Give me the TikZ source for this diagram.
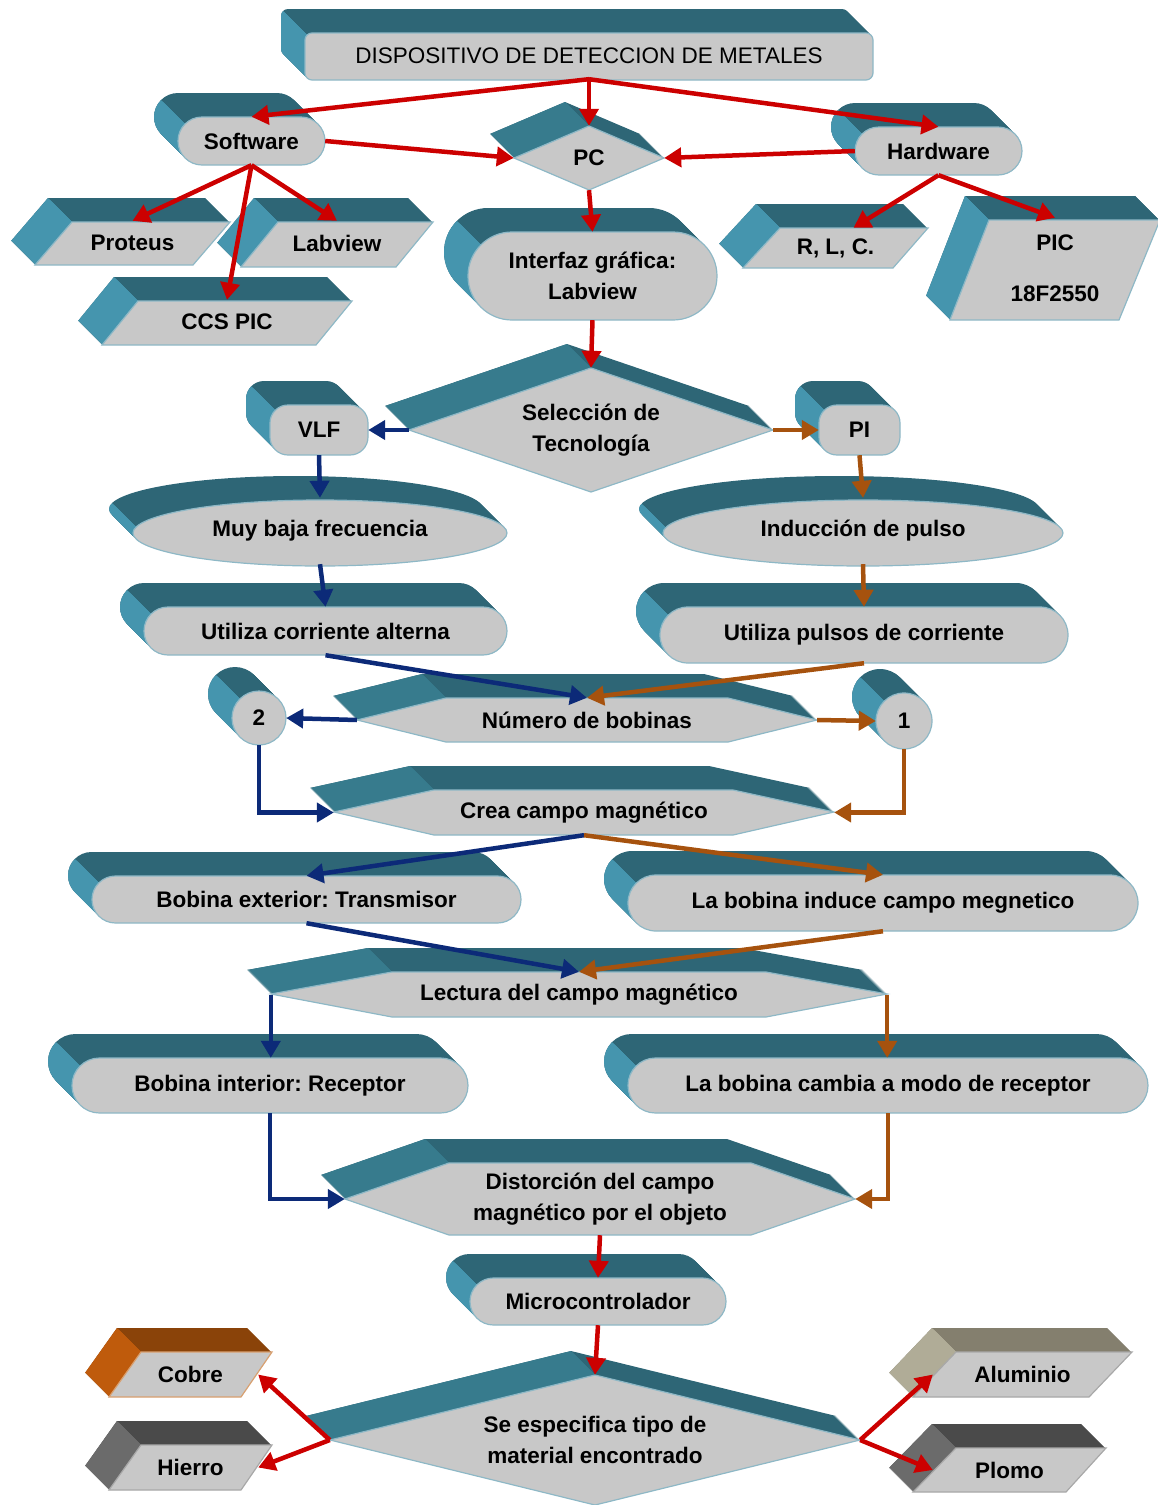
\documentclass[tikz,border=0pt]{standalone}
\usepackage{fontspec}
\setmainfont{Liberation Sans}
\frenchspacing
\usetikzlibrary{arrows.meta}
\pgfdeclarelayer{solidlayer}
\pgfdeclarelayer{nodelayer}
\pgfdeclarelayer{edgelayer}
\pgfsetlayers{solidlayer,nodelayer,edgelayer,main}
\definecolor{facegray}{HTML}{C8C8C8}
\definecolor{tealtop}{HTML}{2E6676}
\definecolor{tealside}{HTML}{4595AE}
\definecolor{tealedge}{HTML}{8EB8C6}
\definecolor{flattop}{HTML}{2E6676}
\definecolor{flatside}{HTML}{377B8D}
\definecolor{flatedge}{HTML}{8EB8C6}
\definecolor{coppertop}{HTML}{8A4309}
\definecolor{copperside}{HTML}{BF5B0C}
\definecolor{copperedge}{HTML}{D8A070}
\definecolor{irontop}{HTML}{4A4A4A}
\definecolor{ironside}{HTML}{6B6B6B}
\definecolor{ironedge}{HTML}{A8A8A8}
\definecolor{alutop}{HTML}{847F6E}
\definecolor{aluside}{HTML}{B0AC97}
\definecolor{aluedge}{HTML}{A8A8A8}
\definecolor{arrowred}{HTML}{CC0000}
\definecolor{arrownavy}{HTML}{0C2A78}
\definecolor{arrowbrown}{HTML}{A6520E}
\tikzstyle{frontface}=[fill=facegray, line width=1.2pt]
\tikzstyle{blocktext}=[inner sep=0pt, align=center]
\tikzstyle{rededge}=[draw=arrowred, line width=4.5pt, -{Triangle[length=17pt,width=19pt]}]
\tikzstyle{navyedge}=[draw=arrownavy, line width=4.5pt, -{Triangle[length=17pt,width=19pt]}]
\tikzstyle{brownedge}=[draw=arrowbrown, line width=4.5pt, -{Triangle[length=17pt,width=19pt]}]
\newcommand{\prism}[3][teal]{%
  \colorlet{topcol}{#1top}%
  \colorlet{sidecol}{#1side}%
  \foreach \k in {1,...,24} {\fill [topcol, shift={(-\k,-\k)}] #3;}
  \begin{scope}
    \clip (#2) ++(-1000,-1000) -- ++(2000,2000) -- ++(-2000,0) -- cycle;
    \foreach \k in {1,...,24} {\fill [sidecol, shift={(-\k,-\k)}] #3;}
  \end{scope}
  \path [style=frontface, draw=#1edge] #3;%
}
\begin{document}
\begin{tikzpicture}[x=1pt, y=-1pt, font=\fontsize{22.5}{30.5}\selectfont\bfseries]
	\useasboundingbox (0,0) rectangle (1158,1505);
	\begin{pgfonlayer}{solidlayer}
		\prism{312,40}{[rounded corners=7pt] (305,33) rectangle (873,80)}
		\prism{202,141}{[rounded corners=24pt] (178,117) rectangle (325,165)}
		\prism[flat]{589,126}{(514,158) -- (589,126) -- (664,158) -- (589,190) -- cycle}
		\prism{879,151}{[rounded corners=24pt] (855,127) rectangle (1022,175)}
		\prism{72,222}{(72,222) -- (230,222) -- (193,265) -- (35,265) -- cycle}
		\prism{278,222}{(278,222) -- (433,222) -- (396,267) -- (241,267) -- cycle}
		\prism{138,301}{(138,301) -- (352,301) -- (316,345) -- (102,345) -- cycle}
		\prism{512,276}{[rounded corners=44pt] (468,232) rectangle (717,320)}
		\prism{780,228}{(780,228) -- (928,228) -- (893,268) -- (743,268) -- cycle}
		\prism{989,220}{(989,220) -- (1160,220) -- (1119,320) -- (950,320) -- cycle}
		\prism[flat]{591,368}{(409,430) -- (591,368) -- (773,430) -- (591,492) -- cycle}
		\prism{288,423}{[rounded corners=18pt] (270,405) rectangle (368,455)}
		\prism{837,423}{[rounded corners=18pt] (819,405) rectangle (900,455)}
		\prism{136,527}{(320,533) ellipse [x radius=187, y radius=33]}
		\prism{666,528}{(863,533) ellipse [x radius=200, y radius=33]}
		\prism{168,631}{[rounded corners=24pt] (144,607) rectangle (507,655)}
		\prism{688,635}{[rounded corners=28pt] (660,607) rectangle (1068,663)}
		\prism[flat]{446,698}{(357,720) -- (446,698) -- (728,698) -- (817,720) -- (728,742) -- (446,742) -- cycle}
		\prism{259,718}{(259,718) circle [radius=27]}
		\prism{904,721}{(904,721) circle [radius=28]}
		\prism[flat]{434,790}{(334,812) -- (434,790) -- (733,790) -- (834,812) -- (733,835) -- (434,835) -- cycle}
		\prism{116,900}{[rounded corners=23.5pt] (92,876) rectangle (521,923)}
		\prism{656,903}{[rounded corners=28pt] (628,875) rectangle (1138,931)}
		\prism[flat]{392,972}{(271,994) -- (392,972) -- (766,972) -- (887,994) -- (766,1017) -- (392,1017) -- cycle}
		\prism{99,1085}{[rounded corners=27.5pt] (72,1058) rectangle (468,1113)}
		\prism{655,1085}{[rounded corners=27.5pt] (628,1058) rectangle (1148,1113)}
		\prism[flat]{449,1163}{(345,1199) -- (449,1163) -- (751,1163) -- (855,1199) -- (751,1235) -- (449,1235) -- cycle}
		\prism{493,1301}{[rounded corners=23.5pt] (470,1278) rectangle (726,1325)}
		\prism[flat]{595,1375}{(330,1440) -- (595,1375) -- (860,1440) -- (595,1505) -- cycle}
		\prism[copper]{141,1352}{(141,1352) -- (272,1352) -- (241,1397) -- (109,1397) -- cycle}
		\prism[iron]{141,1445}{(141,1445) -- (272,1445) -- (241,1490) -- (109,1490) -- cycle}
		\prism[alu]{956,1352}{(956,1352) -- (1132,1352) -- (1089,1397) -- (913,1397) -- cycle}
		\prism[iron]{956,1448}{(956,1448) -- (1106,1448) -- (1066,1492) -- (913,1492) -- cycle}
	\end{pgfonlayer}
	\begin{pgfonlayer}{nodelayer}
		\node [style=blocktext, minimum width=568pt, minimum height=47pt, font=\fontsize{22.5}{30.5}\selectfont\mdseries] (1) at (589,55.5) {DISPOSITIVO DE DETECCION DE METALES};
		\node [style=blocktext, minimum width=147pt, minimum height=48pt] (2) at (251.5,141) {Software};
		\node [style=blocktext, minimum width=150pt, minimum height=64pt] (3) at (589,158) {PC};
		\node [style=blocktext, minimum width=167pt, minimum height=48pt] (4) at (938.5,151) {Hardware};
		\node [style=blocktext, minimum width=195pt, minimum height=43pt] (5) at (132.5,242.5) {Proteus};
		\node [style=blocktext, minimum width=192pt, minimum height=45pt] (6) at (337,243.5) {Labview};
		\node [style=blocktext, minimum width=250pt, minimum height=44pt] (7) at (227,322) {CCS PIC};
		\node [style=blocktext, minimum width=249pt, minimum height=88pt] (8) at (592.5,276) {Interfaz gráfica:\\Labview};
		\node [style=blocktext, minimum width=185pt, minimum height=40pt] (9) at (835.5,248) {R, L, C.};
		\node [style=blocktext, minimum width=210pt, minimum height=100pt] (10) at (1055,268) {PIC\\[20pt]18F2550};
		\node [style=blocktext, minimum width=364pt, minimum height=124pt] (11) at (591,430) {Selección de\\Tecnología};
		\node [style=blocktext, minimum width=98pt, minimum height=50pt] (12) at (319,430) {VLF};
		\node [style=blocktext, minimum width=81pt, minimum height=50pt] (13) at (859.5,430) {PI};
		\node [style=blocktext, minimum width=374pt, minimum height=66pt] (14) at (320,531) {Muy baja frecuencia};
		\node [style=blocktext, minimum width=400pt, minimum height=66pt] (15) at (863,531) {Inducción de pulso};
		\node [style=blocktext, minimum width=363pt, minimum height=48pt] (16) at (325.5,631) {Utiliza corriente alterna};
		\node [style=blocktext, minimum width=408pt, minimum height=56pt] (17) at (864,635) {Utiliza pulsos de corriente};
		\node [style=blocktext, minimum width=460pt, minimum height=44pt] (18) at (587,720) {Número de bobinas};
		\node [style=blocktext, minimum width=54pt, minimum height=54pt] (19) at (259,718) {2};
		\node [style=blocktext, minimum width=56pt, minimum height=56pt] (20) at (904,721) {1};
		\node [style=blocktext, minimum width=500pt, minimum height=45pt] (21) at (584,812.5) {Crea campo magnético};
		\node [style=blocktext, minimum width=429pt, minimum height=47pt] (22) at (306.5,899.5) {Bobina exterior: Transmisor};
		\node [style=blocktext, minimum width=510pt, minimum height=56pt] (23) at (883,903) {La bobina induce campo megnetico};
		\node [style=blocktext, minimum width=616pt, minimum height=45pt] (24) at (579,994.5) {Lectura del campo magnético};
		\node [style=blocktext, minimum width=396pt, minimum height=55pt] (25) at (270,1085.5) {Bobina interior: Receptor};
		\node [style=blocktext, minimum width=520pt, minimum height=55pt] (26) at (888,1085.5) {La bobina cambia a modo de receptor};
		\node [style=blocktext, minimum width=510pt, minimum height=72pt] (27) at (600,1199) {Distorción del campo\\magnético por el objeto};
		\node [style=blocktext, minimum width=256pt, minimum height=47pt] (28) at (598,1301.5) {Microcontrolador};
		\node [style=blocktext, minimum width=530pt, minimum height=130pt] (29) at (595,1440) {Se especifica tipo de\\material encontrado};
		\node [style=blocktext, minimum width=163pt, minimum height=45pt] (30) at (190.5,1374.5) {Cobre};
		\node [style=blocktext, minimum width=163pt, minimum height=45pt] (31) at (190.5,1467.5) {Hierro};
		\node [style=blocktext, minimum width=219pt, minimum height=45pt] (32) at (1022.5,1374.5) {Aluminio};
		\node [style=blocktext, minimum width=193pt, minimum height=44pt] (33) at (1009.5,1470) {Plomo};
	\end{pgfonlayer}
	\begin{pgfonlayer}{edgelayer}
		\draw [style=rededge] (1.south) to (2.north);
		\draw [style=rededge] (1.south) to (3.north);
		\draw [style=rededge] (1.south) to (4.north);
		\draw [style=rededge] (2.east) to (3.west);
		\draw [style=rededge] (4.west) to (3.east);
		\draw [style=rededge] (2.south) to (5.north);
		\draw [style=rededge] (2.south) to (6.north);
		\draw [style=rededge] (2.south) to (7.north);
		\draw [style=rededge] (4.south) to ([xshift=18pt]9.north);
		\draw [style=rededge] (4.south) to (10.north);
		\draw [style=rededge] (3.south) to (8.north);
		\draw [style=rededge] (8.south) to (11.north);
		\draw [style=navyedge] (11.west) to (12.east);
		\draw [style=navyedge] (12.south) to (14.north);
		\draw [style=navyedge] (14.south) to (16.north);
		\draw [style=navyedge] (16.south) to (18.north);
		\draw [style=navyedge] (18.west) to (19.east);
		\draw [style=navyedge] (19.south) |- (21.west);
		\draw [style=navyedge] (21.south) to (22.north);
		\draw [style=navyedge] (22.south) to (24.north);
		\draw [style=navyedge] (24.west) to (24.west |- 25.north);
		\draw [style=navyedge] (25.south) |- (27.west);
		\draw [style=brownedge] (11.east) to (13.west);
		\draw [style=brownedge] (13.south) to (15.north);
		\draw [style=brownedge] (15.south) to (17.north);
		\draw [style=brownedge] (17.south) to (18.north);
		\draw [style=brownedge] (18.east) to (20.west);
		\draw [style=brownedge] (20.south) |- (21.east);
		\draw [style=brownedge] (21.south) to (23.north);
		\draw [style=brownedge] (23.south) to (24.north);
		\draw [style=brownedge] (24.east) to (24.east |- 26.north);
		\draw [style=brownedge] (26.south) |- (27.east);
		\draw [style=rededge] (27.south) to (28.north);
		\draw [style=rededge] (28.south) to (29.north);
		\draw [style=rededge] (29.west) to ([xshift=-14pt]30.east);
		\draw [style=rededge] (29.west) to ([xshift=-14pt]31.east);
		\draw [style=rededge] (29.east) to ([xshift=20pt]32.west);
		\draw [style=rededge] (29.east) to ([xshift=20pt]33.west);
	\end{pgfonlayer}
\end{tikzpicture}
\end{document}
